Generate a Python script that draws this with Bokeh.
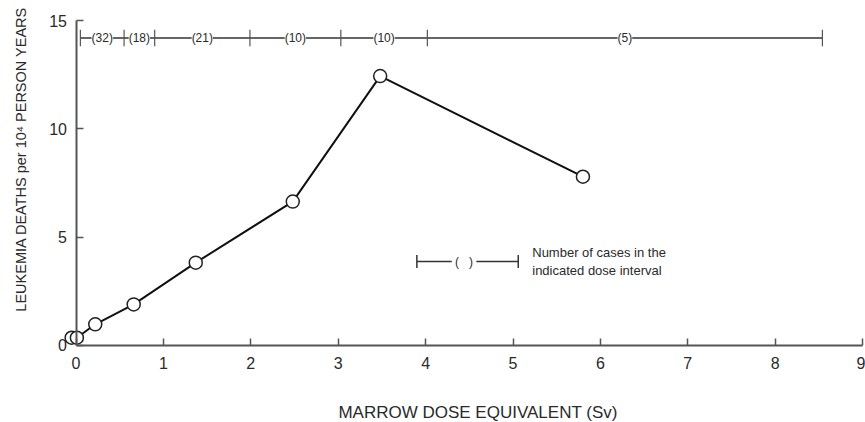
import math
from bokeh.plotting import figure
from bokeh.models import ColumnDataSource, LabelSet, Label, FixedTicker, Range1d
from bokeh.core.properties import value
from bokeh.embed import file_html
from bokeh.resources import INLINE

# ---- data ----
dose = [-0.05, 0.01, 0.22, 0.66, 1.37, 2.48, 3.48, 5.80]
rate = [0.35, 0.35, 0.97, 1.89, 3.82, 6.64, 12.44, 7.79]

interval_bounds = [0.05, 0.55, 0.90, 1.99, 3.03, 4.02, 8.54]
interval_cases = [32, 18, 21, 10, 10, 5]
interval_level = 14.2

legend_bounds = [3.9, 5.06]
legend_level = 3.87
legend_text = "Number of cases in the\nindicated dose interval"

x_ticks = [0, 1, 2, 3, 4, 5, 6, 7, 8, 9]
y_ticks = [0, 5, 10, 15]
x_title = "MARROW DOSE EQUIVALENT (Sv)"
y_title = "LEUKEMIA DEATHS per 10\u2074 PERSON YEARS"

INK = "#2a2a2a"
FONT = "Liberation Sans"

# frame covers the whole canvas; axes are pinned at 0 and bounded
p = figure(width=865, height=422, output_backend="svg", toolbar_location=None,
           x_range=Range1d(-0.864, 9.033), y_range=Range1d(-3.567, 15.933),
           min_border=0)
p.outline_line_color = None
p.grid.grid_line_color = None
p.background_fill_color = "white"
p.border_fill_color = "white"

for ax in (p.xaxis[0], p.yaxis[0]):
    ax.fixed_location = 0
    ax.axis_line_color = "#555555"
    ax.axis_line_width = 2
    ax.major_tick_line_color = "#555555"
    ax.major_tick_line_width = 1.5
    ax.major_tick_in = 7
    ax.major_tick_out = 0
    ax.minor_tick_line_color = None
    ax.major_label_text_font = FONT
    ax.major_label_text_font_size = "16px"
    ax.major_label_text_color = INK
p.xaxis.bounds = (x_ticks[0], x_ticks[-1])
p.yaxis.bounds = (y_ticks[0], y_ticks[-1])
p.xaxis.ticker = FixedTicker(ticks=x_ticks)
p.yaxis.ticker = FixedTicker(ticks=y_ticks)
p.xaxis.major_label_standoff = 12
p.yaxis.major_label_standoff = 9

# main series
src = ColumnDataSource(dict(x=dose, y=rate))
p.line("x", "y", source=src, line_color="#111111", line_width=2)
p.scatter("x", "y", source=src, size=13, fill_color="white",
          line_color="#222222", line_width=1.5)

# interval bar at top
p.segment(x0=interval_bounds[0], y0=interval_level,
          x1=interval_bounds[-1], y1=interval_level,
          line_color="#333333", line_width=1.5)
p.segment(x0=interval_bounds, y0=[interval_level - 0.38] * len(interval_bounds),
          x1=interval_bounds, y1=[interval_level + 0.38] * len(interval_bounds),
          line_color="#555555", line_width=1.2)
mids = [(a + b) / 2 for a, b in zip(interval_bounds[:-1], interval_bounds[1:])]
lab_src = ColumnDataSource(dict(x=mids, y=[interval_level] * len(mids),
                                t=["(%d)" % c for c in interval_cases]))
p.add_layout(LabelSet(x="x", y="y", text="t", source=lab_src,
                      text_align="center", text_baseline="middle",
                      text_font=value(FONT), text_font_size=value("12px"),
                      text_color=value(INK),
                      background_fill_color="white"))

# legend key
p.segment(x0=legend_bounds[0], y0=legend_level, x1=legend_bounds[1], y1=legend_level,
          line_color="#333333", line_width=1.5)
p.segment(x0=legend_bounds, y0=[legend_level - 0.3] * 2,
          x1=legend_bounds, y1=[legend_level + 0.3] * 2,
          line_color="#333333", line_width=1.5)
p.add_layout(Label(x=sum(legend_bounds) / 2 - 0.04, y=legend_level,
                   text="\u00a0(\u00a0\u00a0\u00a0)\u00a0",
                   text_align="center", text_baseline="middle",
                   text_font=FONT, text_font_size="12px", text_color=INK,
                   background_fill_color="white"))
p.add_layout(Label(x=5.22, y=legend_level, text=legend_text,
                   text_align="left", text_baseline="middle",
                   text_font=FONT, text_font_size="13px", text_color=INK))

# axis titles
p.add_layout(Label(x=-0.635, y=8.6, text=y_title, angle=math.pi / 2,
                   text_align="center", text_baseline="middle",
                   text_font=FONT, text_font_size="14.5px", text_color=INK))
p.add_layout(Label(x=4.6, y=-3.1, text=x_title,
                   text_align="center", text_baseline="middle",
                   text_font=FONT, text_font_size="17px", text_color=INK))

open("out.html", "w").write(file_html(p, INLINE))
